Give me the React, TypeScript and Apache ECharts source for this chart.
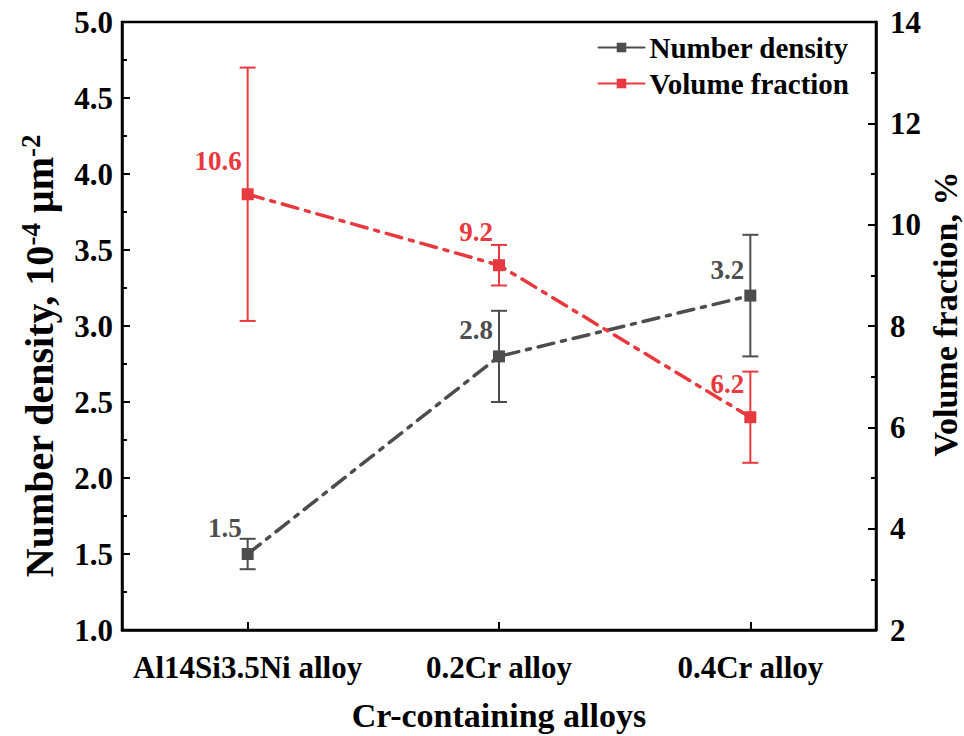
import React, { useEffect, useRef } from "react";
import * as echarts from "echarts";

const categories = ["Al14Si3.5Ni alloy", "0.2Cr alloy", "0.4Cr alloy"];
const numberDensity = [1.5, 2.8, 3.2];
const numberDensityErr = [0.1, 0.3, 0.4];
const volumeFraction = [10.6, 9.2, 6.2];
const volumeFractionErr = [2.5, 0.4, 0.9];
const leftTicks = { min: 1, max: 5, interval: 0.5 };
const rightTicks = { min: 2, max: 14, interval: 2 };

const FONT = '"Liberation Serif", "Times New Roman", serif';
const GRAY = "#4d4d4d";
const RED = "#e8393f";

function errorSeries(values: number[], errs: number[], color: string, yAxisIndex: number) {
  return {
    type: "custom",
    yAxisIndex,
    silent: true,
    z: 1,
    data: values.map((v, i) => [i, v - errs[i], v + errs[i]]),
    encode: { x: 0, y: [1, 2] },
    renderItem: (params: any, api: any) => {
      const x = api.value(0);
      const lo = api.coord([x, api.value(1)]);
      const hi = api.coord([x, api.value(2)]);
      const w = 8;
      const style = { stroke: color, lineWidth: 2 };
      return {
        type: "group",
        children: [
          { type: "line", shape: { x1: lo[0], y1: lo[1], x2: hi[0], y2: hi[1] }, style },
          { type: "line", shape: { x1: hi[0] - w, y1: hi[1], x2: hi[0] + w, y2: hi[1] }, style },
          { type: "line", shape: { x1: lo[0] - w, y1: lo[1], x2: lo[0] + w, y2: lo[1] }, style },
        ],
      };
    },
  };
}

export default function App() {
  const ref = useRef<HTMLDivElement>(null);
  useEffect(() => {
    if (!ref.current) return;
    const chart = echarts.init(ref.current, undefined, { renderer: "svg" });
    const axisLine = { show: true, lineStyle: { color: "#000", width: 2.5 } };
    const tickLabel = { fontFamily: FONT, fontWeight: "bold", fontSize: 31, color: "#000" };
    chart.setOption({
      animation: false,
      backgroundColor: "#fff",
      textStyle: { fontFamily: FONT },
      grid: {
        left: 122,
        right: 88,
        top: 22,
        bottom: 106,
        containLabel: false,
        outerBoundsMode: "none",
        show: true,
        borderColor: "#000",
        borderWidth: 2.5,
      },
      legend: {
        orient: "vertical",
        right: 110,
        top: 28,
        itemGap: 7,
        itemWidth: 46,
        itemHeight: 12,
        data: ["Number density", "Volume fraction"],
        lineStyle: { type: "solid" },
        textStyle: { fontFamily: FONT, fontWeight: "bold", fontSize: 29, color: "#000" },
      },
      xAxis: {
        type: "category",
        data: categories,
        boundaryGap: true,
        axisLine,
        axisTick: { show: true, inside: true, alignWithLabel: true, length: 8, lineStyle: { color: "#000", width: 2 } },
        axisLabel: { ...tickLabel, margin: 22, interval: 0 },
        name: "Cr-containing alloys",
        nameLocation: "middle",
        nameGap: 68,
        nameTextStyle: { fontFamily: FONT, fontWeight: "bold", fontSize: 34, color: "#000" },
        splitLine: { show: false },
      },
      yAxis: [
        {
          type: "value",
          min: leftTicks.min,
          max: leftTicks.max,
          interval: leftTicks.interval,
          axisLine,
          axisTick: { show: true, inside: true, length: 8, lineStyle: { color: "#000", width: 2 } },
          minorTick: { show: true, splitNumber: 2, length: 5, lineStyle: { color: "#000", width: 2 } },
          axisLabel: { ...tickLabel, margin: 9, formatter: (v: number) => v.toFixed(1) },
          splitLine: { show: false },
          name: "{t|Number density, 10}{s|-4}{t| μm}{s|-2}",
          nameLocation: "middle",
          nameRotate: 90,
          nameGap: 60,
          nameTextStyle: {
            fontFamily: FONT,
            fontWeight: "bold",
            color: "#000",
            padding: [0, 60, 0, 0],
            rich: {
              t: { fontFamily: FONT, fontWeight: "bold", fontSize: 40, color: "#000" },
              s: { fontFamily: FONT, fontWeight: "bold", fontSize: 27, color: "#000", verticalAlign: "top", padding: [0, 0, 18, 0] },
            },
          },
        },
        {
          type: "value",
          min: rightTicks.min,
          max: rightTicks.max,
          interval: rightTicks.interval,
          position: "right",
          axisLine,
          axisTick: { show: true, inside: true, length: 8, lineStyle: { color: "#000", width: 2 } },
          minorTick: { show: true, splitNumber: 2, length: 5, lineStyle: { color: "#000", width: 2 } },
          axisLabel: { ...tickLabel, margin: 14 },
          splitLine: { show: false },
          name: "Volume fraction, %",
          nameLocation: "middle",
          nameRotate: 90,
          nameGap: 52,
          nameMoveOverlap: false,
          nameTextStyle: {
            fontFamily: FONT,
            fontWeight: "bold",
            fontSize: 34,
            lineHeight: 34,
            color: "#000",
            padding: [0, 0, 0, 24],
          },
        },
      ],
      series: [
        errorSeries(numberDensity, numberDensityErr, GRAY, 0),
        errorSeries(volumeFraction, volumeFractionErr, RED, 1),
        {
          name: "Number density",
          type: "line",
          yAxisIndex: 0,
          data: numberDensity,
          z: 3,
          color: GRAY,
          symbol: "rect",
          symbolSize: 12,
          itemStyle: { color: GRAY },
          lineStyle: { color: GRAY, width: 3.5, type: [16, 8, 4, 8], cap: "round" },
          label: {
            show: true,
            position: "left",
            distance: 0,
            offset: [0, -26],
            fontFamily: FONT,
            fontWeight: "bold",
            fontSize: 27,
            color: GRAY,
          },
        },
        {
          name: "Volume fraction",
          type: "line",
          yAxisIndex: 1,
          data: volumeFraction,
          z: 3,
          color: RED,
          symbol: "rect",
          symbolSize: 12,
          itemStyle: { color: RED },
          lineStyle: { color: RED, width: 3.5, type: [16, 8, 4, 8], cap: "round" },
          label: {
            show: true,
            position: "left",
            distance: 0,
            offset: [0, -33],
            fontFamily: FONT,
            fontWeight: "bold",
            fontSize: 27,
            color: RED,
          },
        },
      ],
    });
    return () => chart.dispose();
  }, []);
  return <div ref={ref} style={{ position: "absolute", left: 0, top: 0, width: 964, height: 736 }} />;
}
